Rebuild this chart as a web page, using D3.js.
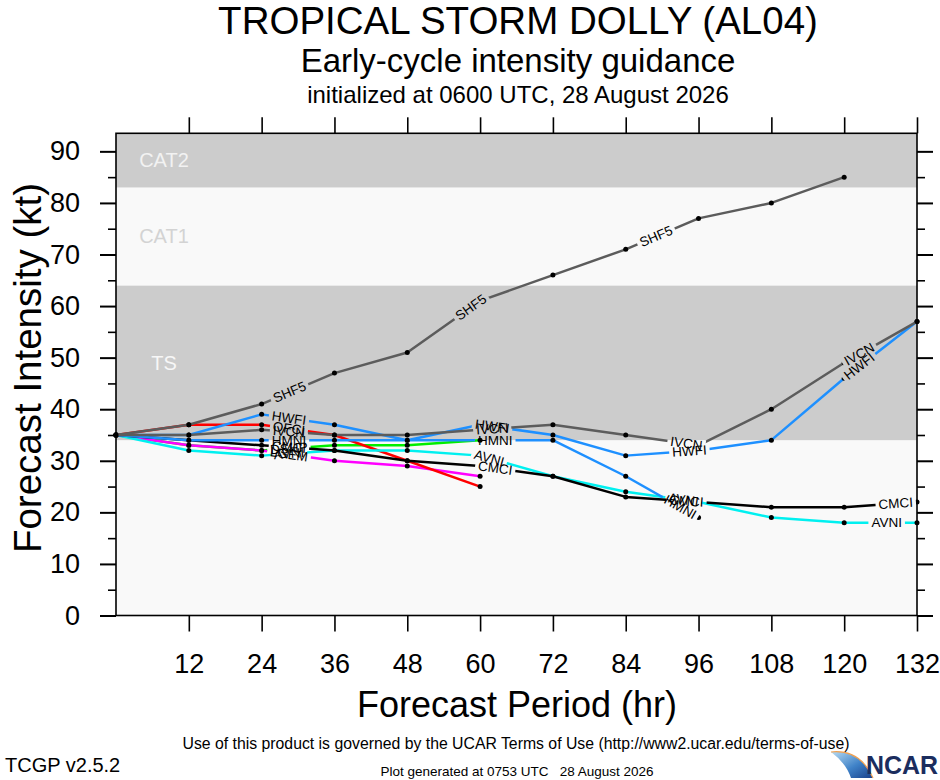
<!DOCTYPE html>
<html>
<head>
<meta charset="utf-8">
<script src="https://cdn.jsdelivr.net/npm/d3@7"></script>
<style>
body { margin: 0; background: #fff; }
text { font-family: "Liberation Sans", Arial, Helvetica, sans-serif; }
</style>
</head>
<body>
<svg id="chart" width="940" height="780"></svg>
<script>
// forecast hours and intensities (kt)
const hours = [0, 12, 24, 36, 48, 60, 72, 84, 96, 108, 120, 132];
const dshp = [35, 33, 32, 33, 33, 34];
const lgem = [35, 33, 32, 30, 29, 27];
const ofci = [35, 37, 37, 35, 30, 25];
const avni = [35, 32, 31, 32, 32, 31, 27, 24, 22, 19, 18, 18];
const cmci = [35, 34, 33, 32, 30, 29, 27, 23, 22, 21, 21, 22];
const hmni = [35, 34, 34, 34, 34, 34, 34, 27, 19];
const hwfi = [35, 35, 39, 37, 34, 37, 35, 31, 32, 34, 46, 57];
const ivcn = [35, 35, 36, 35, 35, 36, 37, 35, 33, 40, 49, 57];
const shf5 = [35, 37, 41, 47, 51, 61, 66, 71, 77, 80, 85];

// forecast hour where each line carries its name
const dshpLabels = [28.5];
const lgemLabels = [28.5];
const ofciLabels = [28.5];
const avniLabels = [28.5, 61.5, 93.5, 127];
const cmciLabels = [28.5, 62.5, 94, 128.5];
const hmniLabels = [28.5, 62.5, 93];
const hwfiLabels = [28.5, 62, 94.5, 122.5];
const ivcnLabels = [28.5, 62, 94, 122.5];
const shf5Labels = [28.6, 58.5, 89];

// intensity categories
const bandNames = ["TS", "CAT1", "CAT2"];
const bandLow = [34, 64, 83];
const bandHigh = [64, 83, 93.5];

const xTicks = [12, 24, 36, 48, 60, 72, 84, 96, 108, 120, 132];
const yTicks = [0, 10, 20, 30, 40, 50, 60, 70, 80, 90];
const yMinor = [5, 15, 25, 35, 45, 55, 65, 75, 85];

const svg = d3.select("#chart");
const pLeft = 116, pRight = 917, pTop = 133.3, pBottom = 615.5;

const x = d3.scaleLinear().domain([0, 132]).range([pLeft, pRight]);
const y = d3.scaleLinear().domain([0, 93.5]).range([pBottom, pTop]);

const colour = {
    DSHP: "#00ee00", LGEM: "#ff00ff", OFCI: "#ff0000", AVNI: "#00f0f0",
    CMCI: "#000000", HMNI: "#1e90ff", HWFI: "#1e90ff", IVCN: "#5c5c5c", SHF5: "#5c5c5c"
};
const series = [
    ["DSHP", dshp, dshpLabels], ["LGEM", lgem, lgemLabels], ["OFCI", ofci, ofciLabels],
    ["AVNI", avni, avniLabels], ["CMCI", cmci, cmciLabels], ["HMNI", hmni, hmniLabels],
    ["HWFI", hwfi, hwfiLabels], ["IVCN", ivcn, ivcnLabels], ["SHF5", shf5, shf5Labels]
];

// titles
svg.append("text").attr("x", 518).attr("y", 34).attr("text-anchor", "middle")
    .attr("font-size", "38.5px").text("TROPICAL STORM DOLLY (AL04)");
svg.append("text").attr("x", 518).attr("y", 72).attr("text-anchor", "middle")
    .attr("font-size", "33px").text("Early-cycle intensity guidance");
svg.append("text").attr("x", 518).attr("y", 103).attr("text-anchor", "middle")
    .attr("font-size", "24px").text("initialized at 0600 UTC, 28 August 2026");

// plot background and category bands
svg.append("rect").attr("x", pLeft).attr("y", pTop)
    .attr("width", pRight - pLeft).attr("height", pBottom - pTop).attr("fill", "#f9f9f9");

const bands = svg.append("g");
bandNames.forEach((name, i) => {
    bands.append("rect")
        .attr("x", pLeft).attr("width", pRight - pLeft)
        .attr("y", y(bandHigh[i])).attr("height", y(bandLow[i]) - y(bandHigh[i]))
        .attr("fill", name == "CAT1" ? "#f9f9f9" : "#cccccc");
    bands.append("text")
        .attr("x", pLeft + 48).attr("y", y((bandLow[i] + bandHigh[i]) / 2))
        .attr("text-anchor", "middle").attr("dominant-baseline", "central")
        .attr("font-size", "20px")
        .attr("fill", name == "CAT1" ? "#d3d3d3" : (name == "CAT2" ? "#f2f2f2" : "#f7f7f7"))
        .text(name);
});

// lines, each one in a group masked where its labels sit
const defs = svg.append("defs");
const lineLayer = svg.append("g");
const labelLayer = svg.append("g");

function placeAt(vals, h) {
    for (let i = 0; i < vals.length - 1; i++) {
        if (h >= hours[i] && h <= hours[i + 1]) {
            const t = (h - hours[i]) / (hours[i + 1] - hours[i]);
            const ang = Math.atan2(y(vals[i + 1]) - y(vals[i]), x(hours[i + 1]) - x(hours[i])) * 180 / Math.PI;
            return [x(h), y(vals[i] + t * (vals[i + 1] - vals[i])), ang];
        }
    }
    return null;
}

const line = d3.line().x((d, i) => x(hours[i])).y(d => y(d));

series.forEach(([name, vals, labs]) => {
    const mask = defs.append("mask").attr("id", "gap-" + name)
        .attr("maskUnits", "userSpaceOnUse")
        .attr("x", 0).attr("y", 0).attr("width", 940).attr("height", 780);
    mask.append("rect").attr("width", 940).attr("height", 780).attr("fill", "#fff");

    const g = lineLayer.append("g").attr("mask", "url(#gap-" + name + ")");
    g.append("path").datum(vals)
        .attr("d", line)
        .attr("fill", "none")
        .attr("stroke", colour[name])
        .attr("stroke-width", 2.5)
        .attr("stroke-linejoin", "round");
    g.selectAll("circle").data(vals).enter().append("circle")
        .attr("cx", (d, i) => x(hours[i]))
        .attr("cy", d => y(d))
        .attr("r", 2.5)
        .attr("fill", "#000");

    labs.forEach(h => {
        const p = placeAt(vals, h);
        if (!p) return;
        const tr = "translate(" + p[0] + "," + p[1] + ") rotate(" + p[2] + ")";
        const t = labelLayer.append("text")
            .attr("transform", tr)
            .attr("text-anchor", "middle").attr("dominant-baseline", "central")
            .attr("font-size", "13.5px").attr("fill", "#000")
            .text(name);
        const w = t.node().getComputedTextLength();
        mask.append("rect").attr("transform", tr)
            .attr("x", -w / 2 - 3).attr("y", -6).attr("width", w + 6).attr("height", 12)
            .attr("fill", "#000");
    });
});

// frame and axes
svg.append("rect").attr("x", pLeft).attr("y", pTop)
    .attr("width", pRight - pLeft).attr("height", pBottom - pTop)
    .attr("fill", "none").attr("stroke", "#000").attr("stroke-width", 1.6);

function styleAxis(g, width) {
    g.select(".domain").remove();
    g.selectAll("line").attr("stroke", "#000").attr("stroke-width", width);
    g.selectAll("text").attr("font-size", "27px").attr("fill", "#000")
        .attr("font-family", '"Liberation Sans", Arial, Helvetica, sans-serif');
}

svg.append("g").attr("transform", `translate(${pLeft},0)`)
    .call(d3.axisLeft(y).tickValues(yTicks).tickSize(16).tickPadding(20))
    .call(g => styleAxis(g, 2));
svg.append("g").attr("transform", `translate(${pLeft},0)`)
    .call(d3.axisLeft(y).tickValues(yMinor).tickSize(8).tickFormat(""))
    .call(g => styleAxis(g, 1.6));
svg.append("g").attr("transform", `translate(${pRight},0)`)
    .call(d3.axisRight(y).tickValues(yTicks).tickSize(16).tickFormat(""))
    .call(g => styleAxis(g, 2));
svg.append("g").attr("transform", `translate(${pRight},0)`)
    .call(d3.axisRight(y).tickValues(yMinor).tickSize(8).tickFormat(""))
    .call(g => styleAxis(g, 1.6));
svg.append("g").attr("transform", `translate(0,${pBottom})`)
    .call(d3.axisBottom(x).tickValues(xTicks).tickSize(16).tickPadding(22))
    .call(g => styleAxis(g, 1.6));
svg.append("g").attr("transform", `translate(0,${pTop})`)
    .call(d3.axisTop(x).tickValues(xTicks).tickSize(16).tickFormat(""))
    .call(g => styleAxis(g, 1.6));

svg.append("text").attr("x", 517).attr("y", 717).attr("text-anchor", "middle")
    .attr("font-size", "36px").text("Forecast Period (hr)");
svg.append("text").attr("transform", "translate(41,368) rotate(-90)")
    .attr("text-anchor", "middle").attr("font-size", "38.5px").text("Forecast Intensity (kt)");

// footer
svg.append("text").attr("x", 516).attr("y", 749).attr("text-anchor", "middle")
    .attr("font-size", "15.8px")
    .text("Use of this product is governed by the UCAR Terms of Use (http://www2.ucar.edu/terms-of-use)");
svg.append("text").attr("x", 5).attr("y", 772).attr("font-size", "20px").text("TCGP v2.5.2");
svg.append("text").attr("x", 517).attr("y", 776).attr("text-anchor", "middle")
    .attr("font-size", "13.5px").attr("xml:space", "preserve")
    .text("Plot generated at 0753 UTC   28 August 2026");

// NCAR logo
const grad = defs.append("linearGradient").attr("id", "swoosh")
    .attr("x1", "0%").attr("y1", "0%").attr("x2", "100%").attr("y2", "100%");
grad.append("stop").attr("offset", "0%").attr("stop-color", "#b9dcf2");
grad.append("stop").attr("offset", "55%").attr("stop-color", "#3f82c8");
grad.append("stop").attr("offset", "100%").attr("stop-color", "#173f8a");
svg.append("path")
    .attr("d", "M831,752 Q860,749 873,778 L851,778 Q846,763 831,752 Z")
    .attr("fill", "url(#swoosh)");
svg.append("path")
    .attr("d", "M831,752 Q860,749 873,778")
    .attr("fill", "none").attr("stroke", "#f0a050").attr("stroke-width", 1.2);
svg.append("text").attr("x", 866).attr("y", 774).attr("font-size", "25px")
    .attr("font-weight", "bold").attr("fill", "#1b2d5e")
    .attr("textLength", 72).attr("lengthAdjust", "spacingAndGlyphs").text("NCAR");
</script>
</body>
</html>
